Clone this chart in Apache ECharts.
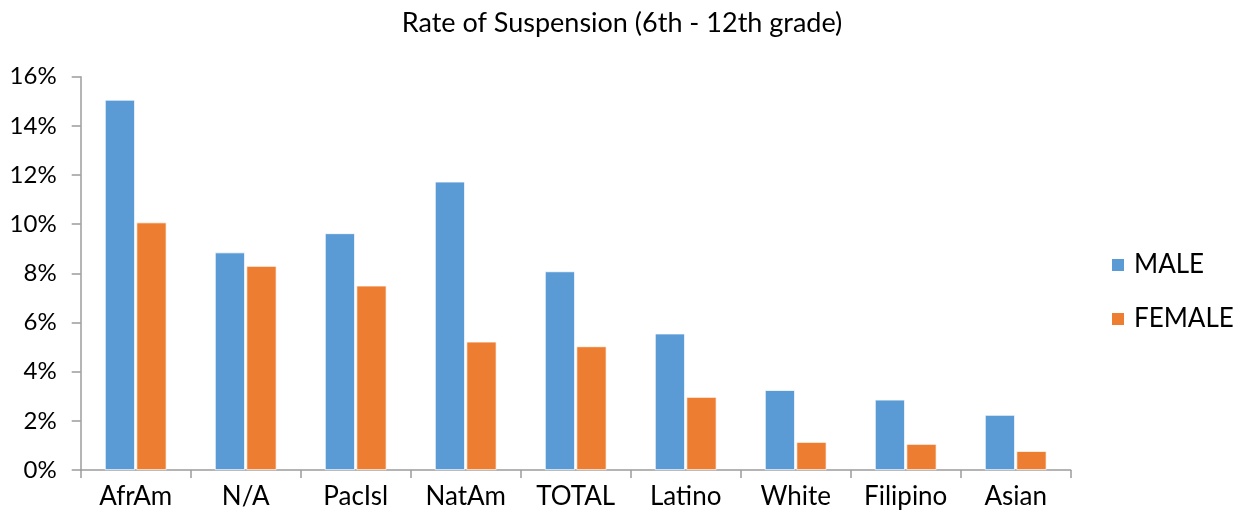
<!DOCTYPE html>
<html><head><meta charset="utf-8">
<script src="https://cdn.jsdelivr.net/npm/echarts@6/dist/echarts.min.js"></script>
<style>html,body{margin:0;padding:0;background:#fff}#c{width:1244px;height:522px}</style>
</head><body><div id="c"></div>
<script>
const categories = ['AfrAm','N/A','PacIsl','NatAm','TOTAL','Latino','White','Filipino','Asian'];
const male = [15.06, 8.85, 9.63, 11.73, 8.08, 5.55, 3.25, 2.86, 2.24];
const female = [10.07, 8.30, 7.50, 5.22, 5.03, 2.97, 1.14, 1.06, 0.77];
const yTicks = [0, 2, 4, 6, 8, 10, 12, 14, 16];

const FONT = 'Lato';
const chart = echarts.init(document.getElementById('c'), null, {renderer:'canvas'});
chart.setOption({
  animation:false,
  backgroundColor:'#fff',
  title:{text:'Rate of Suspension (6th - 12th grade)', left:'center', top:5,
    textStyle:{fontFamily:FONT, fontSize:27, fontWeight:'normal', color:'#000'}},
  legend:{orient:'vertical', left:1105, top:247, itemWidth:14, itemHeight:14, itemGap:28,
    icon:'rect', textStyle:{fontFamily:FONT, fontSize:26, color:'#000', padding:[0,0,0,4]},
    data:['MALE','FEMALE']},
  grid:{left:80.7, right:173.3, top:76.7, bottom:52, containLabel:false},
  xAxis:{type:'category', data:categories,
    axisLine:{lineStyle:{color:'#9c9c9c', width:1.5}},
    axisTick:{show:true, length:8, lineStyle:{color:'#9c9c9c', width:1.5}},
    axisLabel:{fontFamily:FONT, fontSize:26, color:'#000', margin:14}},
  yAxis:{type:'value', min:yTicks[0], max:yTicks[yTicks.length-1], interval:2,
    axisLine:{show:true, lineStyle:{color:'#9c9c9c', width:1.5}},
    axisTick:{show:true, length:9, lineStyle:{color:'#9c9c9c', width:1.5}},
    splitLine:{show:false},
    axisLabel:{fontFamily:FONT, fontSize:24, color:'#000', margin:24, formatter:v=>v+'%'}},
  series:[
    {name:'MALE', type:'bar', data:male, barGap:'5%', barCategoryGap:'44%',
      itemStyle:{color:'#5B9BD5', borderColor:'#fff', borderWidth:0.75}},
    {name:'FEMALE', type:'bar', data:female,
      itemStyle:{color:'#ED7D31', borderColor:'#fff', borderWidth:0.75}}
  ]
});
</script></body></html>
